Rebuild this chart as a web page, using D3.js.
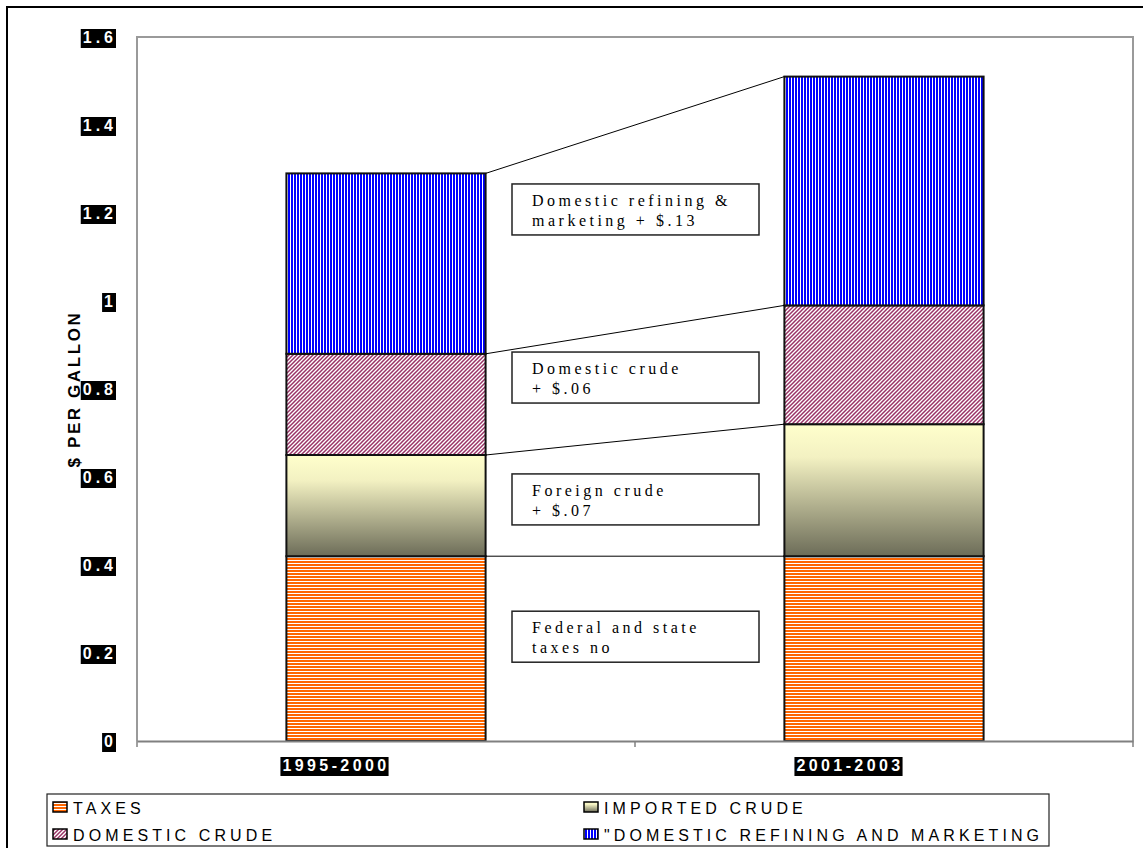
<!DOCTYPE html>
<html>
<head>
<meta charset="utf-8">
<script src="https://cdn.jsdelivr.net/npm/d3@7"></script>
<style>
  html, body { margin: 0; padding: 0; background: #fff; }
  svg { display: block; }
</style>
</head>
<body>
<svg id="chart" width="1143" height="848"></svg>
<script>
// ---------------- DATA ----------------
const categories = ["1995-2000", "2001-2003"];
const taxes = [0.42, 0.42];
const importedCrude = [0.23, 0.30];
const domesticCrude = [0.23, 0.27];
const refiningMarketing = [0.41, 0.52];
const seriesKeys = ["taxes", "imported", "domestic", "refining"];
const seriesNames = ["TAXES", "IMPORTED CRUDE", "DOMESTIC CRUDE", "\"DOMESTIC REFINING AND MARKETING"];
const yTicks = [0, 0.2, 0.4, 0.6, 0.8, 1, 1.2, 1.4, 1.6];
const yTickLabels = ["0", "0.2", "0.4", "0.6", "0.8", "1", "1.2", "1.4", "1.6"];
const yTitle = "$ PER GALLON";
const annotationLines = [
  ["Domestic refining &", "marketing + $.13"],
  ["Domestic crude", "+ $.06"],
  ["Foreign crude", "+ $.07"],
  ["Federal and state", "taxes no"]
];

// ---------------- LAYOUT ----------------
const W = 1143, H = 848;
const plot = { left: 137, right: 1133, top: 37, bottom: 741 };
const annotationTopValues = [1.266, 0.884, 0.607, 0.295]; // box tops in data units
const xLabelShift = [-50, -34];
const colors = { taxes: "#FF6600", refining: "#0000FF", domestic: "#993366" };
const sans = "'Liberation Sans', Arial, sans-serif";

const svg = d3.select("#chart");
const rows = categories.map((c, i) => ({
  cat: c, taxes: taxes[i], imported: importedCrude[i],
  domestic: domesticCrude[i], refining: refiningMarketing[i]
}));
const stacked = d3.stack().keys(seriesKeys)(rows);

const x = d3.scaleBand().domain(categories).range([plot.left, plot.right]).padding(0);
const y = d3.scaleLinear().domain([0, 1.6]).range([plot.bottom, plot.top]);
const barW = x.bandwidth() * 0.4;
const barX = c => x(c) + (x.bandwidth() - barW) / 2;

// ---------------- PATTERNS ----------------
const defs = svg.append("defs");
const pT = defs.append("pattern").attr("id", "p-taxes").attr("patternUnits", "userSpaceOnUse")
  .attr("width", 6).attr("height", 3);
pT.append("rect").attr("width", 6).attr("height", 3).attr("fill", "#fff");
pT.append("rect").attr("width", 6).attr("height", 2).attr("fill", colors.taxes);
const pR = defs.append("pattern").attr("id", "p-refining").attr("patternUnits", "userSpaceOnUse")
  .attr("width", 3).attr("height", 6);
pR.append("rect").attr("width", 3).attr("height", 6).attr("fill", "#fff");
pR.append("rect").attr("width", 2).attr("height", 6).attr("fill", colors.refining);
const pD = defs.append("pattern").attr("id", "p-domestic").attr("patternUnits", "userSpaceOnUse")
  .attr("width", 4).attr("height", 4);
pD.append("rect").attr("width", 4).attr("height", 4).attr("fill", "#fff");
pD.append("path").attr("d", "M-1,1 L1,-1 M0,4 L4,0 M3,5 L5,3")
  .attr("stroke", colors.domestic).attr("stroke-width", 1.5);
const gI = defs.append("linearGradient").attr("id", "g-imported")
  .attr("x1", 0).attr("y1", 0).attr("x2", 0).attr("y2", 1);
gI.append("stop").attr("offset", "0%").attr("stop-color", "#FFFFCC");
gI.append("stop").attr("offset", "25%").attr("stop-color", "#F3F1C2");
gI.append("stop").attr("offset", "100%").attr("stop-color", "#6C6C58");

const fills = {
  taxes: "url(#p-taxes)", imported: "url(#g-imported)",
  domestic: "url(#p-domestic)", refining: "url(#p-refining)"
};

// ---------------- FRAME ----------------
svg.append("rect").attr("x", 7).attr("y", 7).attr("width", W - 6).attr("height", H - 6)
  .attr("fill", "none").attr("stroke", "#000").attr("stroke-width", 2);

svg.append("path")
  .attr("d", `M${plot.left},${plot.bottom} V${plot.top} H${plot.right} V${plot.bottom}`)
  .attr("fill", "none").attr("stroke", "#9a9a9a").attr("stroke-width", 2);

// ---------------- BARS ----------------
const gBars = svg.append("g");
stacked.forEach(s => {
  gBars.selectAll(null).data(s).join("rect")
    .attr("x", d => barX(d.data.cat))
    .attr("y", d => y(d[1]))
    .attr("width", barW)
    .attr("height", d => y(d[0]) - y(d[1]))
    .attr("fill", fills[s.key])
    .attr("stroke", "#111").attr("stroke-width", 2);
});

const c0 = categories[0], c1 = categories[1];
stacked.forEach(s => {
  svg.append("line")
    .attr("x1", barX(c0) + barW).attr("y1", y(s[0][1]))
    .attr("x2", barX(c1)).attr("y2", y(s[1][1]))
    .attr("stroke", "#000").attr("stroke-width", 1);
});

// ---------------- AXES ----------------
const xAxis = d3.axisBottom(x).tickSize(0).tickFormat(() => "");
svg.append("g").attr("transform", `translate(0,${plot.bottom})`).call(xAxis)
  .call(g => g.select(".domain").attr("stroke", "#808080").attr("stroke-width", 2));
const bounds = categories.map(c => x(c)).concat([plot.right]);
svg.selectAll(null).data(bounds).join("line")
  .attr("x1", d => d).attr("x2", d => d)
  .attr("y1", plot.bottom).attr("y2", plot.bottom + 6)
  .attr("stroke", "#808080").attr("stroke-width", 1.5);

// x labels: white bold on black
const xl = svg.append("g");
categories.forEach((c, i) => {
  const g = xl.append("g");
  const t = g.append("text")
    .attr("x", x(c) + x.bandwidth() / 2 + xLabelShift[i])
    .attr("y", 771)
    .attr("text-anchor", "middle")
    .attr("font-family", sans)
    .attr("font-weight", "bold").attr("font-size", 16)
    .attr("letter-spacing", "3.4px")
    .attr("fill", "#fff").text(c);
  const b = t.node().getBBox();
  g.insert("rect", "text").attr("x", b.x - 2).attr("y", b.y)
    .attr("width", b.width + 1).attr("height", b.height + 2).attr("fill", "#000");
});

// y labels
const yl = svg.append("g");
yTicks.forEach((v, i) => {
  const g = yl.append("g");
  const t = g.append("text")
    .attr("x", 117).attr("y", y(v) + 6)
    .attr("text-anchor", "end")
    .attr("font-family", sans)
    .attr("font-weight", "bold").attr("font-size", 16)
    .attr("letter-spacing", "4px")
    .attr("fill", "#fff").text(yTickLabels[i]);
  const b = t.node().getBBox();
  g.insert("rect", "text").attr("x", b.x - 2).attr("y", b.y)
    .attr("width", b.width + 1).attr("height", b.height + 2).attr("fill", "#000");
});

// y title
svg.append("text")
  .attr("transform", `translate(80,${(plot.top + plot.bottom) / 2}) rotate(-90)`)
  .attr("text-anchor", "middle")
  .attr("font-family", sans)
  .attr("font-weight", "bold").attr("font-size", 17)
  .attr("letter-spacing", "2.6px")
  .text(yTitle);

// ---------------- ANNOTATIONS ----------------
const boxX = 512, boxW = 247, boxH = 51;
annotationLines.forEach((lines, i) => {
  const top = y(annotationTopValues[i]);
  svg.append("rect").attr("x", boxX).attr("y", top)
    .attr("width", boxW).attr("height", boxH)
    .attr("fill", "#fff").attr("stroke", "#222").attr("stroke-width", 1.5);
  lines.forEach((ln, j) => {
    svg.append("text")
      .attr("x", boxX + 20).attr("y", top + 22 + j * 20)
      .attr("font-family", "'Liberation Serif', 'Times New Roman', serif")
      .attr("font-size", 16).attr("letter-spacing", "3.5px")
      .attr("fill", "#000").text(ln);
  });
});

// ---------------- LEGEND ----------------
svg.append("rect").attr("x", 47).attr("y", 794).attr("width", 1002).attr("height", 52)
  .attr("fill", "#fff").attr("stroke", "#222").attr("stroke-width", 1.2);
const legCols = [53, 584], legRows = [807, 834];
seriesKeys.forEach((k, i) => {
  const cx = legCols[i % 2], cy = legRows[Math.floor(i / 2)];
  svg.append("rect").attr("x", cx).attr("y", cy - 5).attr("width", 14).attr("height", 10)
    .attr("fill", fills[k]).attr("stroke", "#000").attr("stroke-width", 1.5);
  svg.append("text").attr("x", cx + 20).attr("y", cy + 7)
    .attr("font-family", sans)
    .attr("font-size", 16).attr("letter-spacing", "4.1px")
    .attr("fill", "#000").text(seriesNames[i]);
});
</script>
</body>
</html>
